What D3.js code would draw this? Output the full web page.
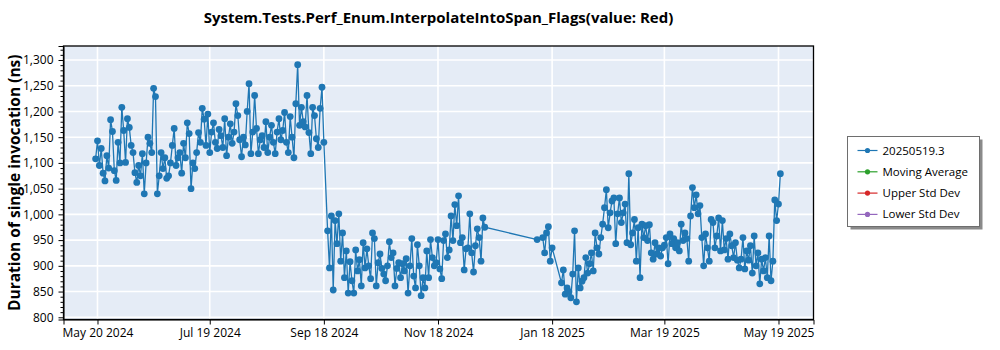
<!DOCTYPE html>
<html>
<head>
<meta charset="utf-8">
<script src="https://cdn.jsdelivr.net/npm/d3@7"></script>
<style>
  body { margin: 0; background: #fff; }
  svg { display: block; }
  text { font-family: "Open Sans", "Noto Sans", sans-serif; fill: #000; }
</style>
</head>
<body>
<svg id="chart" width="1000" height="350"></svg>
<script>
// ---- labels ----
const chartTitle = "System.Tests.Perf_Enum.InterpolateIntoSpan_Flags(value: Red)";
const yAxisTitle = "Duration of single invocation (ns)";
const legendNames = ["20250519.3", "Moving Average", "Upper Std Dev", "Lower Std Dev"];
const legendColors = ["#1f77b4", "#2ca02c", "#d62728", "#9467bd"];

// ---- ticks ----
const xTickDates = ["2024-05-20", "2024-07-19", "2024-09-18", "2024-11-18", "2025-01-18", "2025-03-19", "2025-05-19"];
const yTickValues = [800, 850, 900, 950, 1000, 1050, 1100, 1150, 1200, 1250, 1300];
const yDomain = [795.7, 1327.2];
const xDomain = ["2024-05-01T20:00", "2025-06-06T17:00"];

// ---- daily runs, each block starts on the date in blockStarts ----
const blockStarts = ["2024-05-19", "2024-09-20", "2025-01-10", "2025-01-13", "2025-01-23"];

const runsSpringSummer2024 = [
  1108, 1143, 1095, 1128, 1080, 1065, 1114, 1090, 1184, 1161,
  1085, 1066, 1140, 1100, 1208, 1163, 1101, 1186, 1169, 1134,
  1120, 1081, 1062, 1095, 1075, 1118, 1040, 1100, 1150, 1138,
  1120, 1245, 1229, 1040, 1075, 1120, 1089, 1110, 1070, 1075,
  1100, 1134, 1167, 1095, 1110, 1120, 1080, 1138, 1110, 1178,
  1157, 1050, 1100, 1089, 1120, 1159, 1140, 1206, 1185, 1134,
  1195, 1120, 1160, 1178, 1140, 1128, 1165, 1153, 1130, 1186,
  1114, 1150, 1176, 1138, 1160, 1215, 1192, 1145, 1112, 1150,
  1135, 1200, 1254, 1118, 1160, 1231, 1167, 1118, 1145, 1153,
  1130, 1180, 1120, 1150, 1173, 1140, 1118, 1160, 1186, 1145,
  1163, 1198, 1140, 1120, 1190, 1150, 1110, 1215, 1291, 1173,
  1208, 1180, 1170, 1231, 1159, 1118, 1208, 1192, 1147, 1130,
  1206, 1247, 1140
];

const runsAutumn2024 = [
  968, 896, 997, 853, 988, 943, 1001, 909, 964, 877,
  929, 847, 908, 871, 847, 931, 890, 912, 861, 945,
  896, 933, 900, 875, 964, 953, 861, 906, 923, 895,
  884, 871, 900, 947, 916, 925, 861, 895, 906, 877,
  904, 890, 914, 847, 900, 953, 880, 857, 941, 900,
  842, 877, 857, 929, 877, 951, 916, 900, 906, 951,
  894, 875, 949, 962, 916, 931, 997, 949, 1019, 978,
  1036, 945, 955, 892, 933, 935, 1001, 925, 888, 939,
  972, 955, 909, 993, 975
];

const runsEarlyJanuary2025 = [951];

const runsMidJanuary2025 = [955, 925, 964, 976, 909, 935];

const runsWinterSpring2025 = [
  867, 892, 845, 857, 850, 838, 884, 968, 830, 896,
  857, 870, 877, 916, 886, 904, 925, 890, 964, 935,
  923, 955, 981, 1013, 1048, 974, 1003, 1026, 1032, 943,
  1001, 1032, 984, 1003, 1020, 945, 1079, 941, 964, 990,
  909, 974, 877, 981, 955, 978, 949, 980, 925, 913,
  945, 923, 935, 919, 935, 940, 955, 904, 962, 943,
  953, 935, 945, 929, 981, 949, 964, 953, 909, 997,
  1052, 1013, 1038, 1001, 1017, 955, 900, 962, 935, 909,
  990, 984, 935, 958, 993, 929, 988, 931, 953, 913,
  962, 939, 916, 945, 911, 896, 913, 955, 894, 929,
  911, 939, 886, 958, 900, 925, 865, 913, 890, 916,
  877, 958, 871, 909, 1028, 988, 1020, 1079
];

const blockValues = [runsSpringSummer2024, runsAutumn2024, runsEarlyJanuary2025, runsMidJanuary2025, runsWinterSpring2025];

// ---- layout ----
const plot = { left: 63.5, top: 46, right: 813.5, bottom: 319.5 };
const svg = d3.select("#chart");
const parseDay = d3.utcParse("%Y-%m-%d");
const parseStamp = d3.utcParse("%Y-%m-%dT%H:%M");

const points = blockValues.flatMap((vals, b) => {
  const start = parseDay(blockStarts[b]);
  return vals.map((v, i) => ({ date: d3.utcDay.offset(start, i), value: v }));
});

const x = d3.scaleUtc()
  .domain(xDomain.map(parseStamp))
  .range([plot.left, plot.right]);
const y = d3.scaleLinear()
  .domain(yDomain)
  .range([plot.bottom, plot.top]);

// background
svg.append("rect")
  .attr("x", plot.left).attr("y", plot.top)
  .attr("width", plot.right - plot.left).attr("height", plot.bottom - plot.top)
  .attr("fill", "#e5ecf6");

// grid
const xTicks = xTickDates.map(parseDay);
const grid = svg.append("g").attr("stroke", "#fff").attr("stroke-width", 1.6);
grid.selectAll("line.gy").data(yTickValues).join("line")
  .attr("x1", plot.left).attr("x2", plot.right)
  .attr("y1", d => y(d)).attr("y2", d => y(d));
grid.selectAll("line.gx").data(xTicks).join("line")
  .attr("y1", plot.top).attr("y2", plot.bottom)
  .attr("x1", d => x(d)).attr("x2", d => x(d));

// series
svg.append("clipPath").attr("id", "plotClip").append("rect")
  .attr("x", plot.left).attr("y", plot.top)
  .attr("width", plot.right - plot.left).attr("height", plot.bottom - plot.top);
const series = svg.append("g").attr("clip-path", "url(#plotClip)");
const line = d3.line().x(d => x(d.date)).y(d => y(d.value));
series.append("path")
  .datum(points)
  .attr("fill", "none")
  .attr("stroke", legendColors[0])
  .attr("stroke-width", 1.3)
  .attr("d", line);
series.selectAll("circle").data(points).join("circle")
  .attr("cx", d => x(d.date))
  .attr("cy", d => y(d.value))
  .attr("r", 3.4)
  .attr("fill", legendColors[0]);

// frame
svg.append("rect")
  .attr("x", plot.left).attr("y", plot.top)
  .attr("width", plot.right - plot.left).attr("height", plot.bottom - plot.top)
  .attr("fill", "none").attr("stroke", "#000").attr("stroke-width", 1.3);

// axes
const yAxis = svg.append("g")
  .attr("transform", `translate(${plot.left},0)`)
  .call(d3.axisLeft(y).tickValues(yTickValues).tickFormat(d3.format(",")).tickSize(5).tickPadding(5));
const minorY = d3.range(800, 1330, 10).filter(v => v % 50 !== 0);
svg.append("g")
  .attr("transform", `translate(${plot.left},0)`)
  .call(d3.axisLeft(y).tickValues(minorY).tickFormat("").tickSize(3))
  .call(g => g.select(".domain").remove());
const xAxis = svg.append("g")
  .attr("transform", `translate(0,${plot.bottom})`)
  .call(d3.axisBottom(x).tickValues(xTicks).tickFormat(d3.utcFormat("%b %-d %Y")).tickSize(5).tickPadding(4));
[yAxis, xAxis].forEach(g => {
  g.select(".domain").attr("stroke", "#000");
  g.selectAll(".tick line").attr("stroke", "#000");
  g.selectAll("text").style("font-size", "12px").style("font-family", "'Open Sans', sans-serif").attr("fill", "#000");
});

// titles
svg.append("text")
  .attr("x", (plot.left + plot.right) / 2).attr("y", 23)
  .attr("text-anchor", "middle")
  .style("font-size", "15px").style("font-weight", "bold")
  .text(chartTitle);
svg.append("text")
  .attr("transform", `translate(20,${(plot.top + plot.bottom) / 2}) rotate(-90)`)
  .attr("text-anchor", "middle")
  .style("font-size", "15.5px").style("font-weight", "bold")
  .text(yAxisTitle);

// legend
const legend = { x: 847.5, y: 136.5, w: 132, h: 90 };
svg.append("rect")
  .attr("x", legend.x + 3).attr("y", legend.y + 3)
  .attr("width", legend.w).attr("height", legend.h)
  .attr("fill", "#8a8a8a");
svg.append("rect")
  .attr("x", legend.x).attr("y", legend.y)
  .attr("width", legend.w).attr("height", legend.h)
  .attr("fill", "#fff").attr("stroke", "#6e6e6e").attr("stroke-width", 1);
const items = svg.append("g").selectAll("g").data(legendNames).join("g")
  .attr("transform", (d, i) => `translate(${legend.x},${legend.y + 14 + i * 21.3})`);
items.append("line")
  .attr("x1", 10).attr("x2", 30).attr("y1", 0).attr("y2", 0)
  .attr("stroke", (d, i) => legendColors[i]).attr("stroke-width", 1.2);
items.append("circle")
  .attr("cx", 20).attr("cy", 0).attr("r", 2.6)
  .attr("fill", (d, i) => legendColors[i]);
items.append("text")
  .attr("x", 35).attr("y", 4)
  .style("font-size", "11.5px")
  .text(d => d);
</script>
</body>
</html>
